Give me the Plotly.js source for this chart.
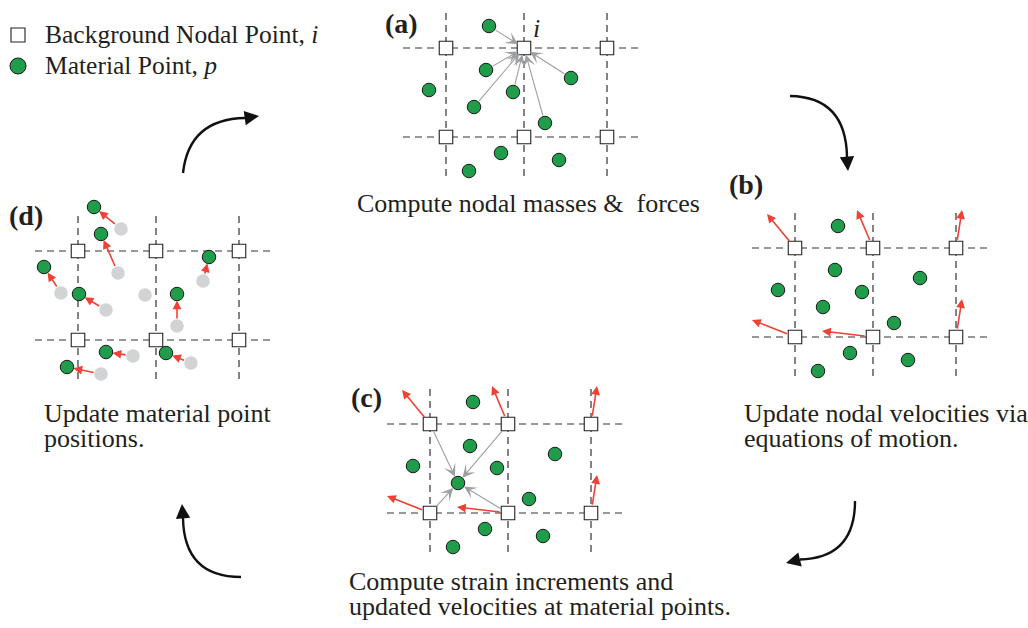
<!DOCTYPE html>
<html><head><meta charset="utf-8">
<script src="https://cdn.plot.ly/plotly-3.0.1.min.js"></script>
<style>html,body{margin:0;padding:0;background:#fff;}#chart{width:1028px;height:628px;}</style>
</head><body><div id="chart"></div>
<script>
// ---- data ----
const panelNames   = ['(a)', '(b)', '(c)', '(d)'];
const panelOriginX = [446, 795, 430, 78];   // top-left background node of each grid
const panelOriginY = [48, 248, 424, 251];
const nodeOffsetX  = [0, 78, 161];
const nodeOffsetY  = [0, 89];
const lineSpanX    = [-43, 192];
const lineSpanY    = [-35, 129];
// material point cloud (offsets from panel origin)
const pointDX = [43, 40, -17, 67, 125, 28, 99, 55, 113, 23];
const pointDY = [-22, 22, 42, 44, 30, 59, 75, 105, 112, 123];
// (a) points that map mass & force to node i
const massSourcePts = [0, 1, 5, 3, 6, 4];
const massTargetNode = 1;
// (b),(c) nodal velocity vectors (top row nodes 0..2, bottom row nodes 0..2)
const velDX = [-28, -16, 6, -43, -51, 6];
const velDY = [-34, -38, -38, -17, -6, -38];
// (c) velocity interpolated back to one point from four nodes
const interpNodes = [0, 1, 3, 4];
const interpTarget = 5;
// (d) updated material point positions
const movedIdx = [0, 1, 2, 4, 5, 6, 7, 8, 9];
const newDX = [16, 23, -34, 131, 1, 99, 28, 88, -11];
const newDY = [-44, -17, 16, 6, 43, 43, 101, 102, 116];
// cycle arrows (quadratic curves + head)
const cycleStartX = [183, 790, 855, 241];
const cycleStartY = [173, 96, 501, 577];
const cycleCtrlX  = [189, 846, 855, 184];
const cycleCtrlY  = [119, 97, 558, 577];
const cycleEndX   = [245, 847, 800, 183];
const cycleEndY   = [118, 157, 559.5, 518];
const cycleTipX   = [259, 848, 786, 182];
const cycleTipY   = [116, 171, 563, 504];
// texts
const captionLines = [['Compute nodal masses &  forces'],
  ['Update nodal velocities via', 'equations of motion.'],
  ['Compute strain increments and', 'updated velocities at material points.'],
  ['Update material point', 'positions.']];
const captionX = [355, 742, 347, 42];
const captionY = [203.5, 413.5, 581.5, 413.5];
const labelX = [401, 746, 366, 26];
const labelY = [23, 184, 397, 215];
const legendLabels = ['Background Nodal Point, <i>i</i>', 'Material Point, <i>p</i>'];
const legendX = [18, 18];
const legendY = [35, 66];

// ---- build ----
const FONT = 'Liberation Serif, Times New Roman, serif';
const TXT = '#231f20';
const GREEN = '#1f9d4a';
const RED = '#ef4136';
const GRAY = '#9d9fa2';

function nodes(p) {
  const xs = [], ys = [];
  for (const oy of nodeOffsetY) for (const ox of nodeOffsetX) {
    xs.push(panelOriginX[p] + ox); ys.push(panelOriginY[p] + oy);
  }
  return [xs, ys];
}
function pts(p) {
  return [pointDX.map(d => panelOriginX[p] + d), pointDY.map(d => panelOriginY[p] + d)];
}

const lx = [], ly = [];
for (let p = 0; p < 4; p++) {
  const X0 = panelOriginX[p], Y0 = panelOriginY[p];
  for (const ox of nodeOffsetX) {
    lx.push(X0 + ox, X0 + ox, null); ly.push(Y0 + lineSpanY[0], Y0 + lineSpanY[1], null);
  }
  for (const oy of nodeOffsetY) {
    lx.push(X0 + lineSpanX[0], X0 + lineSpanX[1], null); ly.push(Y0 + oy, Y0 + oy, null);
  }
}

const nx = [], ny = [];
for (let p = 0; p < 4; p++) { const [a, b] = nodes(p); nx.push(...a); ny.push(...b); }

const gx = [], gy = [];
for (let p = 0; p < 3; p++) { const [a, b] = pts(p); gx.push(...a); gy.push(...b); }
const [oldX, oldY] = pts(3);
movedIdx.forEach((k, j) => { gx.push(panelOriginX[3] + newDX[j]); gy.push(panelOriginY[3] + newDY[j]); });

const traces = [
  {x: lx, y: ly, mode: 'lines', line: {color: '#333', width: 1.2, dash: '7px,5px'}, hoverinfo: 'skip'},
  {x: oldX, y: oldY, mode: 'markers', marker: {size: 13.5, color: '#d1d3d4', line: {width: 0}}, hoverinfo: 'skip'},
  {x: gx, y: gy, mode: 'markers', marker: {size: 13.5, color: GREEN, line: {color: '#1a1a1a', width: 1}}, hoverinfo: 'skip'},
  {x: nx, y: ny, mode: 'markers', marker: {symbol: 'square', size: 13.5, color: '#fff', line: {color: '#222', width: 1.1}}, hoverinfo: 'skip'},
  {x: [legendX[0]], y: [legendY[0]], mode: 'markers', marker: {symbol: 'square', size: 14, color: '#fff', line: {color: '#222', width: 1.1}}, hoverinfo: 'skip'},
  {x: [legendX[1]], y: [legendY[1]], mode: 'markers', marker: {size: 16, color: GREEN, line: {color: '#1a1a1a', width: 1}}, hoverinfo: 'skip'}
];

const ann = [];
function arrow(x0, y0, x1, y1, color, width, head, size, ss, es) {
  ann.push({x: x1, y: y1, ax: x0, ay: y0, xref: 'x', yref: 'y', axref: 'x', ayref: 'y',
    text: '', showarrow: true, arrowhead: head, arrowsize: size, arrowwidth: width,
    arrowcolor: color, startstandoff: ss, standoff: es});
}
// (a) gray arrows to node i
{
  const [ax_, ay_] = pts(0); const [nX, nY] = nodes(0);
  massSourcePts.forEach(k => arrow(ax_[k], ay_[k], nX[massTargetNode], nY[massTargetNode], GRAY, 1.1, 3, 1.9, 6, 7));
}
// (b),(c) red velocity arrows
for (const p of [1, 2]) {
  const [nX, nY] = nodes(p);
  nX.forEach((x, k) => arrow(x, nY[k], x + velDX[k], nY[k] + velDY[k], RED, 1.6, 2, 1.1, 7, 0));
}
// (c) gray interpolation arrows
{
  const [nX, nY] = nodes(2); const [pX, pY] = pts(2);
  interpNodes.forEach(k => arrow(nX[k], nY[k], pX[interpTarget], pY[interpTarget], GRAY, 1.1, 3, 1.9, 7, 7));
}
// (d) red displacement arrows
movedIdx.forEach((k, j) => arrow(oldX[k], oldY[k], panelOriginX[3] + newDX[j], panelOriginY[3] + newDY[j], RED, 1.6, 2, 1.1, 6, 6.5));
// cycle arrow heads
for (let i = 0; i < 4; i++) arrow(cycleEndX[i], cycleEndY[i], cycleTipX[i], cycleTipY[i], '#111', 2.4, 2, 1.2, 0, 0);

// node label i
{
  const [nX, nY] = nodes(0);
  ann.push({x: nX[massTargetNode] + 12, y: nY[massTargetNode] - 20, xref: 'x', yref: 'y', text: '<i>i</i>', showarrow: false,
    font: {family: FONT, size: 26, color: TXT}});
}
// panel labels
panelNames.forEach((t, i) => ann.push({x: labelX[i], y: labelY[i], xref: 'x', yref: 'y', text: '<b>' + t + '</b>', showarrow: false,
  font: {family: FONT, size: 28, color: TXT}}));
// captions
captionLines.forEach((lines, i) => lines.forEach((s, j) => ann.push({x: captionX[i], y: captionY[i] + j * 24.5, xref: 'x', yref: 'y',
  xanchor: 'left', yanchor: 'middle', text: s, showarrow: false, font: {family: FONT, size: 26, color: TXT}})));
// legend text
legendLabels.forEach((s, i) => ann.push({x: legendX[i] + 25, y: legendY[i] - 0.5, xref: 'x', yref: 'y', xanchor: 'left', yanchor: 'middle',
  text: s, showarrow: false, font: {family: FONT, size: 25.5, color: TXT}}));

const shapes = [];
for (let i = 0; i < 4; i++) {
  shapes.push({type: 'path', xref: 'x', yref: 'y', layer: 'above',
    path: `M${cycleStartX[i]},${cycleStartY[i]} Q${cycleCtrlX[i]},${cycleCtrlY[i]} ${cycleEndX[i]},${cycleEndY[i]}`,
    line: {color: '#111', width: 2.4}, fillcolor: 'rgba(0,0,0,0)'});
}

const layout = {
  width: 1028, height: 628, margin: {l: 0, r: 0, t: 0, b: 0},
  paper_bgcolor: '#fff', plot_bgcolor: '#fff', showlegend: false,
  xaxis: {range: [0, 1028], visible: false, fixedrange: true},
  yaxis: {range: [628, 0], visible: false, fixedrange: true},
  annotations: ann, shapes: shapes
};
Plotly.newPlot('chart', traces, layout, {staticPlot: true, displayModeBar: false});
</script></body></html>
